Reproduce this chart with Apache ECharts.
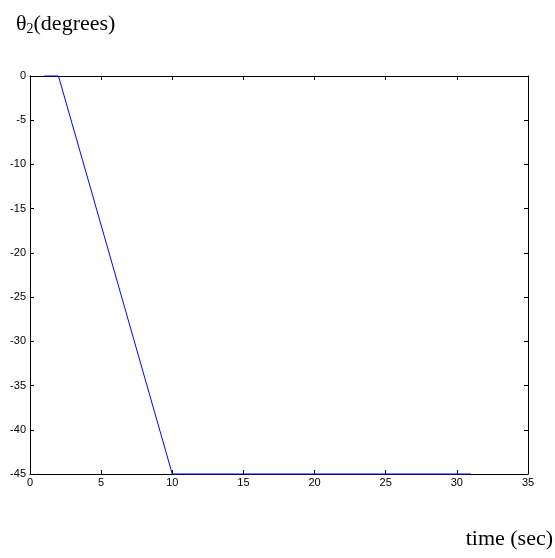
<!DOCTYPE html>
<html><head><meta charset="utf-8">
<script src="https://cdn.jsdelivr.net/npm/echarts@6/dist/echarts.min.js"></script>
<style>html,body{margin:0;padding:0;background:#fff}#c{width:555px;height:558px}</style>
</head><body><div id="c"></div>
<script>
const times = [1, 2, 10, 31];
const theta2 = [0, 0, -45, -45];
const xTicks = [0, 5, 10, 15, 20, 25, 30, 35];
const yTicks = [0, -5, -10, -15, -20, -25, -30, -35, -40, -45];

const chart = echarts.init(document.getElementById('c'));
const axisCommon = {
  axisLine: {show: true, onZero: false, lineStyle: {color: '#000', width: 1}},
  axisTick: {show: true, inside: true, length: 4, lineStyle: {color: '#000'}},
  splitLine: {show: false}
};
chart.setOption({
  animation: false,
  title: {
    text: '{a|θ}{b|2}{a|(degrees)}',
    left: 11, top: 7,
    textStyle: {
      fontWeight: 'normal',
      rich: {
        a: {fontFamily: 'Liberation Serif', fontSize: 22, fontWeight: 'normal', color: '#000'},
        b: {fontFamily: 'Liberation Serif', fontSize: 14, fontWeight: 'normal', color: '#000', verticalAlign: 'bottom', padding: [10, 0, 0, 0]}
      }
    }
  },
  graphic: [{
    type: 'text', right: 2, top: 528,
    style: {text: 'time (sec)', font: '22px "Liberation Serif"', fill: '#000'}
  }],
  grid: {left: 30, right: 27, top: 76, bottom: 84},
  xAxis: [
    Object.assign({type: 'value', min: 0, max: 35, interval: 5, position: 'bottom',
      axisLabel: {color: '#000', fontSize: 11, fontFamily: 'Liberation Sans', margin: 3}}, axisCommon),
    Object.assign({type: 'value', min: 0, max: 35, interval: 5, position: 'top',
      axisLabel: {show: false}}, axisCommon)
  ],
  yAxis: [
    Object.assign({type: 'value', min: -45, max: 0, interval: 5, position: 'left',
      axisLabel: {color: '#000', fontSize: 11, fontFamily: 'Liberation Sans', margin: 4}}, axisCommon),
    Object.assign({type: 'value', min: -45, max: 0, interval: 5, position: 'right',
      axisLabel: {show: false}}, axisCommon)
  ],
  series: [{
    type: 'line',
    data: times.map((t, i) => [t, theta2[i]]),
    symbol: 'none',
    lineStyle: {color: '#0000ff', width: 1},
    clip: false
  }]
});
</script></body></html>
